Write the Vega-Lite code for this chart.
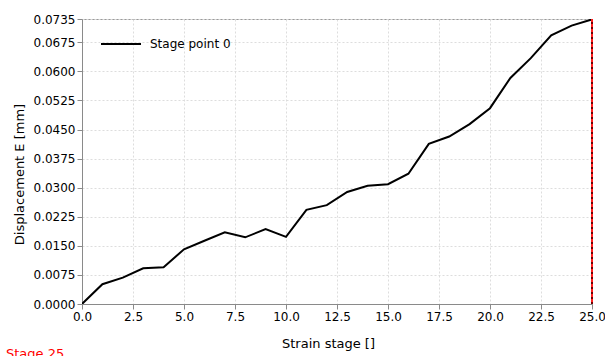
{
  "$schema": "https://vega.github.io/schema/vega-lite/v6.json",
  "width": 510,
  "height": 285,
  "autosize": "none",
  "padding": {"left": 82, "top": 19, "right": 13, "bottom": 52},
  "background": "white",
  "config": {
    "font": "DejaVu Sans",
    "view": {"stroke": "#9a9a9a", "strokeWidth": 1},
    "axis": {
      "labelFont": "DejaVu Sans",
      "titleFont": "DejaVu Sans",
      "labelFontSize": 12,
      "titleFontSize": 13,
      "labelColor": "#000",
      "titleColor": "#000",
      "titleFontWeight": "normal",
      "domainColor": "#8a8a8a",
      "tickColor": "#8a8a8a",
      "tickSize": 5,
      "gridColor": "#dddddd",
      "gridDash": [2, 2],
      "gridWidth": 1
    }
  },
  "title": {
    "text": "Stage 25",
    "orient": "bottom",
    "anchor": "start",
    "frame": "group",
    "color": "#ff0000",
    "font": "DejaVu Sans",
    "fontSize": 13,
    "fontWeight": "normal",
    "dx": -76,
    "offset": -2
  },
  "data": {
    "values": [
      {"stage": 0, "disp": 0.0, "series": "Stage point 0"},
      {"stage": 1, "disp": 0.0051, "series": "Stage point 0"},
      {"stage": 2, "disp": 0.0068, "series": "Stage point 0"},
      {"stage": 3, "disp": 0.0092, "series": "Stage point 0"},
      {"stage": 4, "disp": 0.0095, "series": "Stage point 0"},
      {"stage": 5, "disp": 0.0141, "series": "Stage point 0"},
      {"stage": 6, "disp": 0.0163, "series": "Stage point 0"},
      {"stage": 7, "disp": 0.0185, "series": "Stage point 0"},
      {"stage": 8, "disp": 0.0172, "series": "Stage point 0"},
      {"stage": 9, "disp": 0.0193, "series": "Stage point 0"},
      {"stage": 10, "disp": 0.0173, "series": "Stage point 0"},
      {"stage": 11, "disp": 0.0243, "series": "Stage point 0"},
      {"stage": 12, "disp": 0.0255, "series": "Stage point 0"},
      {"stage": 13, "disp": 0.0289, "series": "Stage point 0"},
      {"stage": 14, "disp": 0.0305, "series": "Stage point 0"},
      {"stage": 15, "disp": 0.0309, "series": "Stage point 0"},
      {"stage": 16, "disp": 0.0336, "series": "Stage point 0"},
      {"stage": 17, "disp": 0.0413, "series": "Stage point 0"},
      {"stage": 18, "disp": 0.0432, "series": "Stage point 0"},
      {"stage": 19, "disp": 0.0464, "series": "Stage point 0"},
      {"stage": 20, "disp": 0.0505, "series": "Stage point 0"},
      {"stage": 21, "disp": 0.0583, "series": "Stage point 0"},
      {"stage": 22, "disp": 0.0634, "series": "Stage point 0"},
      {"stage": 23, "disp": 0.0693, "series": "Stage point 0"},
      {"stage": 24, "disp": 0.0718, "series": "Stage point 0"},
      {"stage": 25, "disp": 0.0734, "series": "Stage point 0"}
    ]
  },
  "layer": [
    {
      "mark": {"type": "line", "strokeWidth": 2, "clip": true},
      "encoding": {
        "x": {
          "field": "stage",
          "type": "quantitative",
          "scale": {"domain": [0, 25], "nice": false, "zero": false},
          "axis": {
            "title": "Strain stage []",
            "values": [0, 2.5, 5, 7.5, 10, 12.5, 15, 17.5, 20, 22.5, 25],
            "format": ".1f",
            "labelPadding": 2,
            "titlePadding": 15,
            "titleX": 246,
            "labelFlush": false
          }
        },
        "y": {
          "field": "disp",
          "type": "quantitative",
          "scale": {"domain": [0, 0.0735], "nice": false},
          "axis": {
            "title": "Displacement E [mm]",
            "values": [0, 0.0075, 0.015, 0.0225, 0.03, 0.0375, 0.045, 0.0525, 0.06, 0.0675, 0.0735],
            "format": ".4f",
            "labelPadding": 2,
            "titlePadding": 7,
            "titleY": 155,
            "labelFlush": false
          }
        },
        "color": {
          "field": "series",
          "type": "nominal",
          "scale": {"range": ["#000000"]},
          "legend": {
            "title": null,
            "orient": "none",
            "legendX": 18,
            "legendY": 4,
            "symbolType": "stroke",
            "symbolSize": 1600,
            "symbolStrokeWidth": 2,
            "labelFont": "DejaVu Sans",
            "labelFontSize": 12,
            "labelColor": "#000",
            "labelOffset": 8,
            "padding": 0
          }
        }
      }
    },
    {
      "data": {"values": [{"stage": 25}]},
      "mark": {"type": "rule", "color": "#700000", "strokeWidth": 2},
      "encoding": {"x": {"field": "stage", "type": "quantitative"}}
    },
    {
      "data": {"values": [{"stage": 25}]},
      "mark": {"type": "rule", "color": "#ff2020", "strokeWidth": 2, "strokeDash": [3, 2]},
      "encoding": {"x": {"field": "stage", "type": "quantitative"}}
    }
  ]
}
